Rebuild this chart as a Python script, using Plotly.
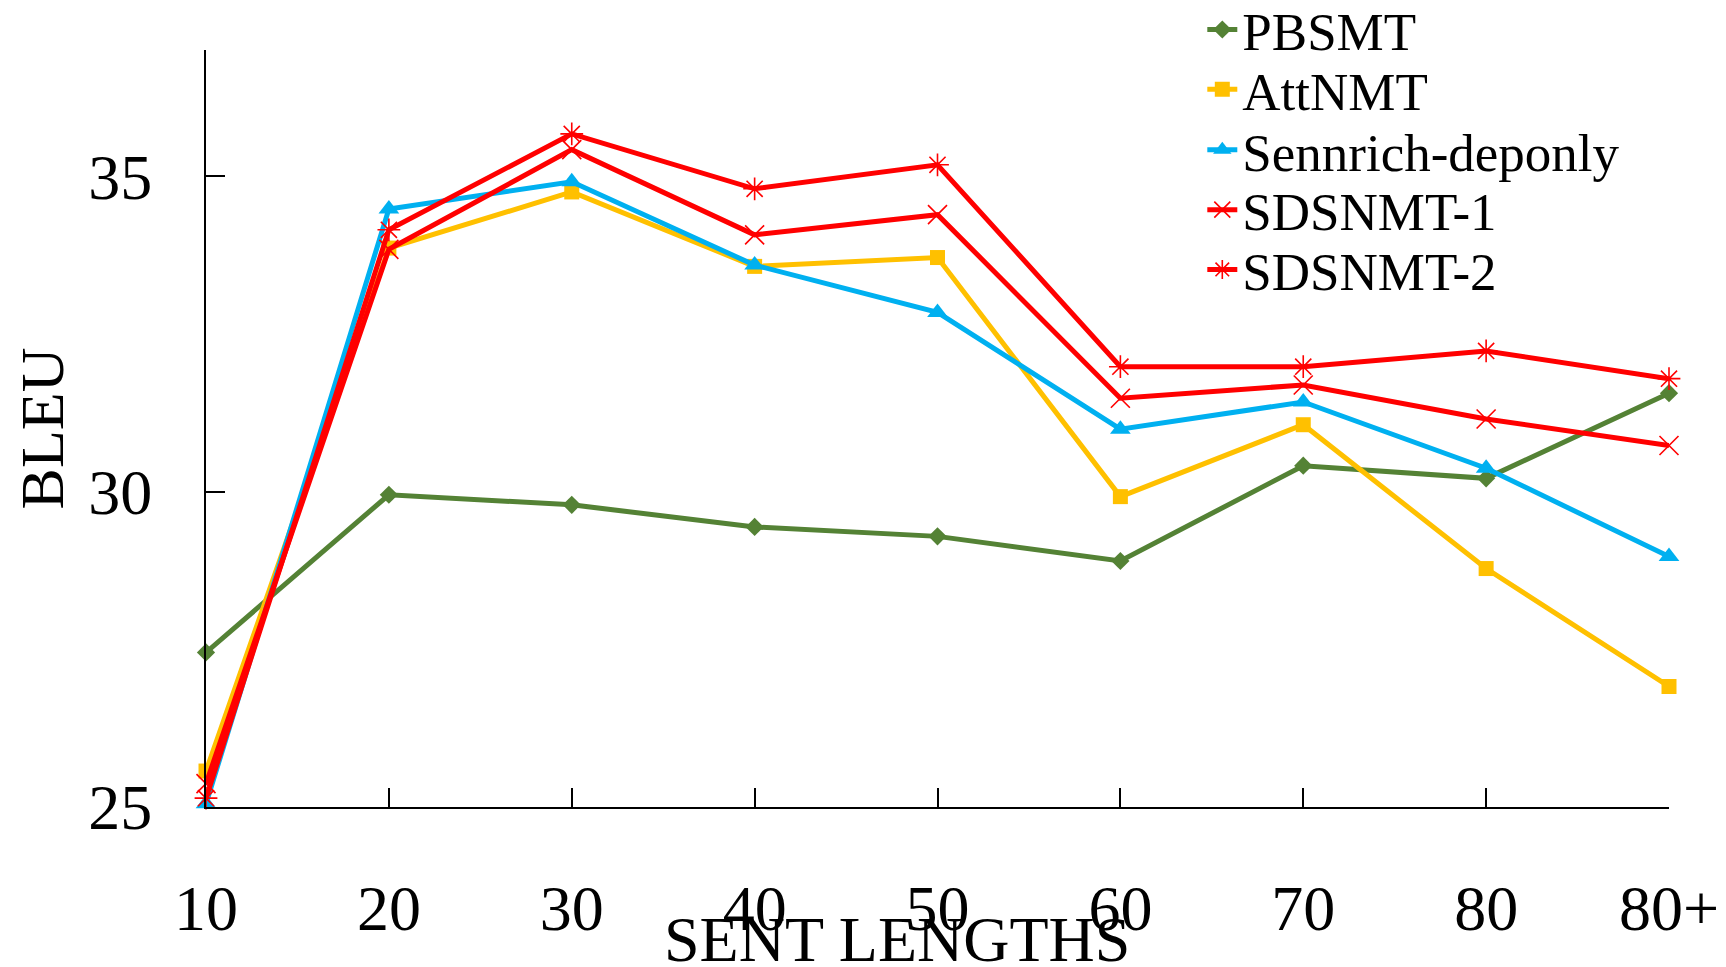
import plotly.graph_objects as go

categories = ["10", "20", "30", "40", "50", "60", "70", "80", "80+"]

pbsmt = [27.45, 29.95, 29.79, 29.44, 29.29, 28.90, 30.41, 30.21, 31.56]
attnmt = [25.57, 33.86, 34.75, 33.57, 33.71, 29.92, 31.06, 28.78, 26.91]
sennrich = [25.05, 34.48, 34.91, 33.59, 32.84, 30.99, 31.42, 30.37, 28.97]
sdsnmt1 = [25.37, 33.84, 35.42, 34.07, 34.39, 31.48, 31.69, 31.15, 30.73]
sdsnmt2 = [25.14, 34.15, 35.67, 34.80, 35.18, 31.98, 31.98, 32.23, 31.79]

y_ticks = [25, 30, 35]

xpos = list(range(len(categories)))

FONT = "Liberation Serif, Times New Roman, serif"

series = [
    ("PBSMT", pbsmt, "#548235", "diamond", 14, 0),
    ("AttNMT", attnmt, "#FFC000", "square", 15, 0),
    ("Sennrich-deponly", sennrich, "#00B0F0", "triangle-up", 18, 0),
    ("SDSNMT-1", sdsnmt1, "#FF0000", "x-thin-open", 19, 1.6),
    ("SDSNMT-2", sdsnmt2, "#FF0000", "asterisk-open", 19, 1.6),
]

legend_names = ["legend", "legend2", "legend3", "legend4", "legend5"]
legend_y = [1.027, 0.948, 0.868, 0.789, 0.710]

fig = go.Figure()
for (name, vals, color, sym, size, lw), lg in zip(series, legend_names):
    marker = dict(symbol=sym, size=size, color=color)
    if lw:
        marker["line"] = dict(color=color, width=lw)
    fig.add_trace(go.Scatter(
        x=xpos, y=vals, name=name, mode="lines+markers",
        line=dict(color=color, width=5),
        marker=marker, cliponaxis=False, legend=lg,
    ))

layout_legends = {}
for lg, ly in zip(legend_names, legend_y):
    layout_legends[lg] = dict(
        x=0.681, y=ly, xanchor="left", yanchor="middle",
        font=dict(family=FONT, size=53, color="black"),
        bgcolor="rgba(0,0,0,0)",
    )

fig.update_layout(
    width=1726, height=967,
    paper_bgcolor="white", plot_bgcolor="white",
    margin=dict(l=198, r=65, t=41.5, b=168, autoexpand=False),
    font=dict(family=FONT, color="black"),
    showlegend=True,
    **layout_legends,
)

fig.add_annotation(
    text="SENT LENGTHS", xref="paper", yref="paper",
    x=0.4723, y=-0.1745, xanchor="center", yanchor="middle",
    showarrow=False, font=dict(family=FONT, size=64, color="black"),
)

fig.update_xaxes(
    range=[0, 8], tickmode="array", tickvals=xpos, ticktext=categories,
    showline=True, linecolor="black", linewidth=2,
    ticks="inside", ticklen=19, tickwidth=1.5, tickcolor="black",
    showgrid=False, zeroline=False, automargin=False,
    tickfont=dict(family=FONT, size=64, color="black"),
    ticklabelstandoff=44,
)
fig.update_yaxes(
    range=[25, 37], tickmode="array", tickvals=y_ticks,
    showline=True, linecolor="black", linewidth=2,
    ticks="inside", ticklen=19, tickwidth=1.5, tickcolor="black",
    showgrid=False, zeroline=False, automargin=False,
    tickfont=dict(family=FONT, size=64, color="black"),
    ticklabelstandoff=39,
    title=dict(text="BLEU", font=dict(family=FONT, size=62, color="black"), standoff=8),
)

fig.write_html("out.html")
